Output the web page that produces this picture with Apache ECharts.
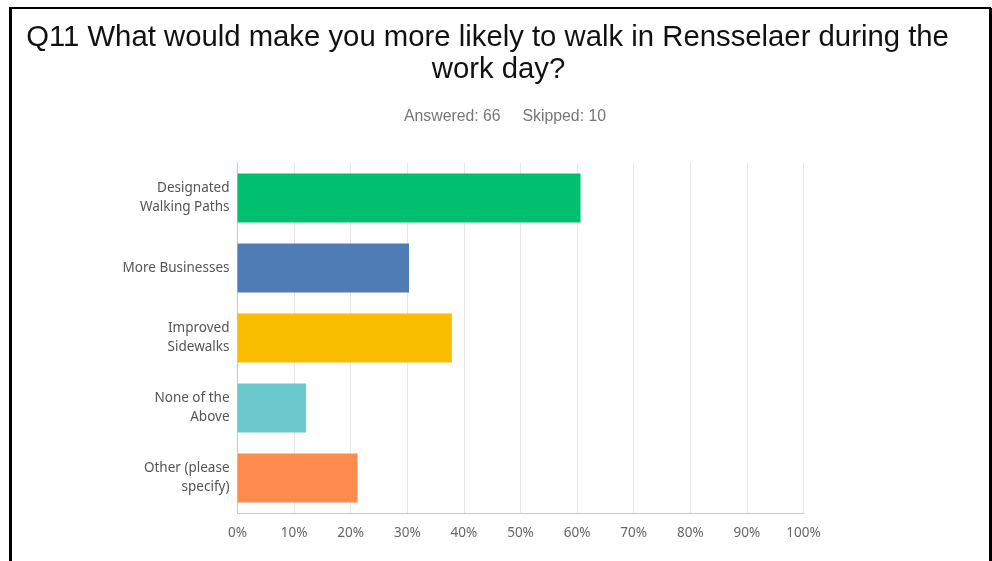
<!DOCTYPE html>
<html>
<head>
<meta charset="utf-8">
<script src="https://cdn.jsdelivr.net/npm/echarts@6/dist/echarts.min.js"></script>
<style>
  html, body { margin: 0; padding: 0; background: #fff; }
  #chart { width: 992px; height: 561px; }
</style>
</head>
<body>
<div id="chart"></div>
<script>
// Survey answer choices and share of respondents (%)
const categories = [
  'Designated\nWalking Paths',
  'More Businesses',
  'Improved\nSidewalks',
  'None of the\nAbove',
  'Other (please\nspecify)'
];
const percents = [60.61, 30.30, 37.88, 12.12, 21.21];
const barColors = ['#00BF6F', '#507CB6', '#F9BE00', '#6BC8CD', '#FF8B4F'];
const tickValues = [0, 10, 20, 30, 40, 50, 60, 70, 80, 90, 100];

const titleStyle = {
  fontFamily: 'Liberation Sans',
  fontSize: 29.3,
  fontWeight: 'normal',
  color: '#111'
};

const chart = echarts.init(document.getElementById('chart'), null, { renderer: 'canvas' });

chart.setOption({
  backgroundColor: '#ffffff',
  animation: false,
  title: [
    {
      text: 'Q11 What would make you more likely to walk in Rensselaer during the',
      left: 482.5,
      top: 18,
      textAlign: 'center',
      textStyle: titleStyle
    },
    {
      text: 'work day?',
      left: 493.5,
      top: 50,
      textAlign: 'center',
      textStyle: titleStyle
    },
    {
      text: 'Answered: 66     Skipped: 10',
      left: 500,
      top: 104,
      textAlign: 'center',
      textStyle: {
        fontFamily: 'Liberation Sans',
        fontSize: 15.8,
        fontWeight: 'normal',
        color: '#777'
      }
    }
  ],
  grid: { left: 237.5, right: 188.5, top: 163, bottom: 48, containLabel: false },
  xAxis: {
    type: 'value',
    min: 0,
    max: 100,
    interval: 10,
    axisLine: { show: true, lineStyle: { color: '#c8c8c8', width: 1 } },
    axisTick: { show: false },
    splitLine: { show: true, lineStyle: { color: '#e6e6e6', width: 1 } },
    axisLabel: {
      margin: 13,
      fontFamily: 'Noto Sans',
      fontSize: 13.5,
      color: '#666',
      formatter: v => (tickValues.includes(v) ? v + '%' : '')
    }
  },
  yAxis: {
    type: 'category',
    data: categories,
    inverse: true,
    axisLine: { show: true, lineStyle: { color: '#c8c8c8', width: 1 } },
    axisTick: { show: false },
    axisLabel: {
      margin: 8,
      fontFamily: 'Noto Sans',
      fontSize: 13.5,
      lineHeight: 19,
      color: '#555',
      align: 'right'
    }
  },
  series: [{
    type: 'bar',
    data: percents.map((v, i) => ({ value: v, itemStyle: { color: barColors[i] } })),
    barCategoryGap: '30%',
    label: { show: false }
  }],
  graphic: [
    { type: 'line', silent: true, shape: { x1: 10.5, y1: 8, x2: 10.5, y2: 561 }, style: { stroke: '#000', lineWidth: 3 } },
    { type: 'line', silent: true, shape: { x1: 9, y1: 8, x2: 991, y2: 8 }, style: { stroke: '#000', lineWidth: 2 } },
    { type: 'line', silent: true, shape: { x1: 990.5, y1: 8, x2: 990.5, y2: 561 }, style: { stroke: '#000', lineWidth: 3 } }
  ]
});
</script>
</body>
</html>
